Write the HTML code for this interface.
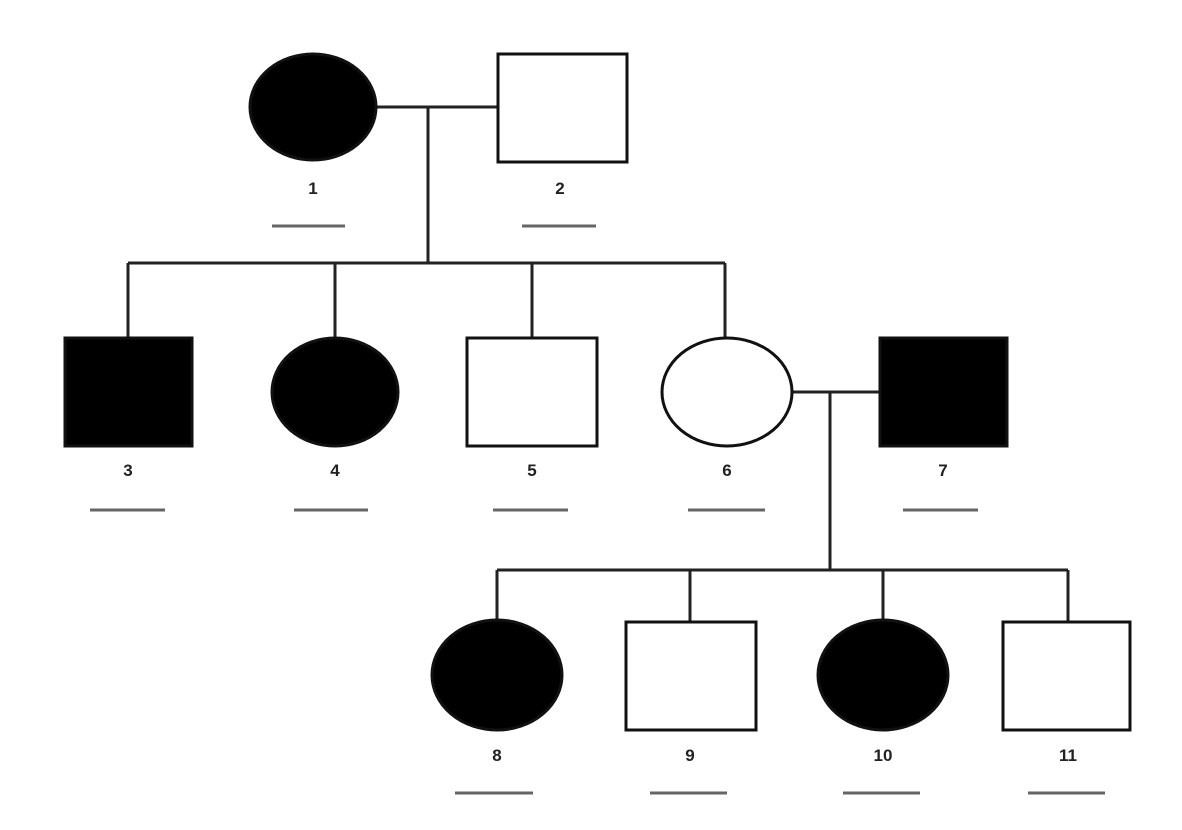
<!DOCTYPE html>
<html><head><meta charset="utf-8"><style>body{margin:0;background:#fff}svg{display:block}</style></head>
<body>
<svg width="1182" height="830" viewBox="0 0 1182 830" xmlns="http://www.w3.org/2000/svg">
<g stroke="#222" stroke-width="3" fill="none">
<line x1="377" y1="107" x2="498" y2="107"/>
<line x1="428" y1="107" x2="428" y2="263"/>
<line x1="128" y1="263" x2="725" y2="263"/>
<line x1="128" y1="263" x2="128" y2="338"/>
<line x1="335" y1="263" x2="335" y2="338"/>
<line x1="532" y1="263" x2="532" y2="338"/>
<line x1="725" y1="263" x2="725" y2="338"/>
<line x1="792" y1="392" x2="880" y2="392"/>
<line x1="830" y1="392" x2="830" y2="570"/>
<line x1="497" y1="570" x2="1068" y2="570"/>
<line x1="497" y1="570" x2="497" y2="621"/>
<line x1="690" y1="570" x2="690" y2="622"/>
<line x1="883" y1="570" x2="883" y2="621"/>
<line x1="1068" y1="570" x2="1068" y2="622"/>
</g>
<g stroke="#111" stroke-width="3">
<ellipse cx="313" cy="107" rx="63" ry="53" fill="#000"/>
<rect x="498" y="54" width="129" height="108" fill="#fff"/>
<rect x="65" y="338" width="127" height="108" fill="#000"/>
<ellipse cx="335" cy="392" rx="63" ry="54" fill="#000"/>
<rect x="467" y="338" width="130" height="108" fill="#fff"/>
<ellipse cx="727" cy="392" rx="65" ry="54" fill="#fff"/>
<rect x="880" y="338" width="127" height="108" fill="#000"/>
<ellipse cx="497" cy="675" rx="65" ry="55" fill="#000"/>
<rect x="626" y="622" width="130" height="108" fill="#fff"/>
<ellipse cx="883" cy="675" rx="65" ry="55" fill="#000"/>
<rect x="1003" y="622" width="127" height="108" fill="#fff"/>
</g>
<g font-family="Liberation Sans, sans-serif" font-weight="bold" font-size="17" text-anchor="middle" fill="#222">
<text x="313" y="194">1</text><text x="560" y="194">2</text>
<text x="128" y="476">3</text><text x="335" y="476">4</text><text x="532" y="476">5</text><text x="727" y="476">6</text><text x="943" y="476">7</text>
<text x="497" y="761">8</text><text x="690" y="761">9</text><text x="883" y="761">10</text><text x="1068" y="761">11</text>
</g>
<g stroke="#666" stroke-width="3">
<line x1="272" y1="226" x2="345" y2="226"/><line x1="522" y1="226" x2="596" y2="226"/>
<line x1="90" y1="510" x2="165" y2="510"/><line x1="294" y1="510" x2="368" y2="510"/><line x1="493" y1="510" x2="568" y2="510"/><line x1="688" y1="510" x2="765" y2="510"/><line x1="903" y1="510" x2="978" y2="510"/>
<line x1="455" y1="793" x2="533" y2="793"/><line x1="650" y1="793" x2="727" y2="793"/><line x1="843" y1="793" x2="920" y2="793"/><line x1="1028" y1="793" x2="1105" y2="793"/>
</g>
</svg>
</body></html>
